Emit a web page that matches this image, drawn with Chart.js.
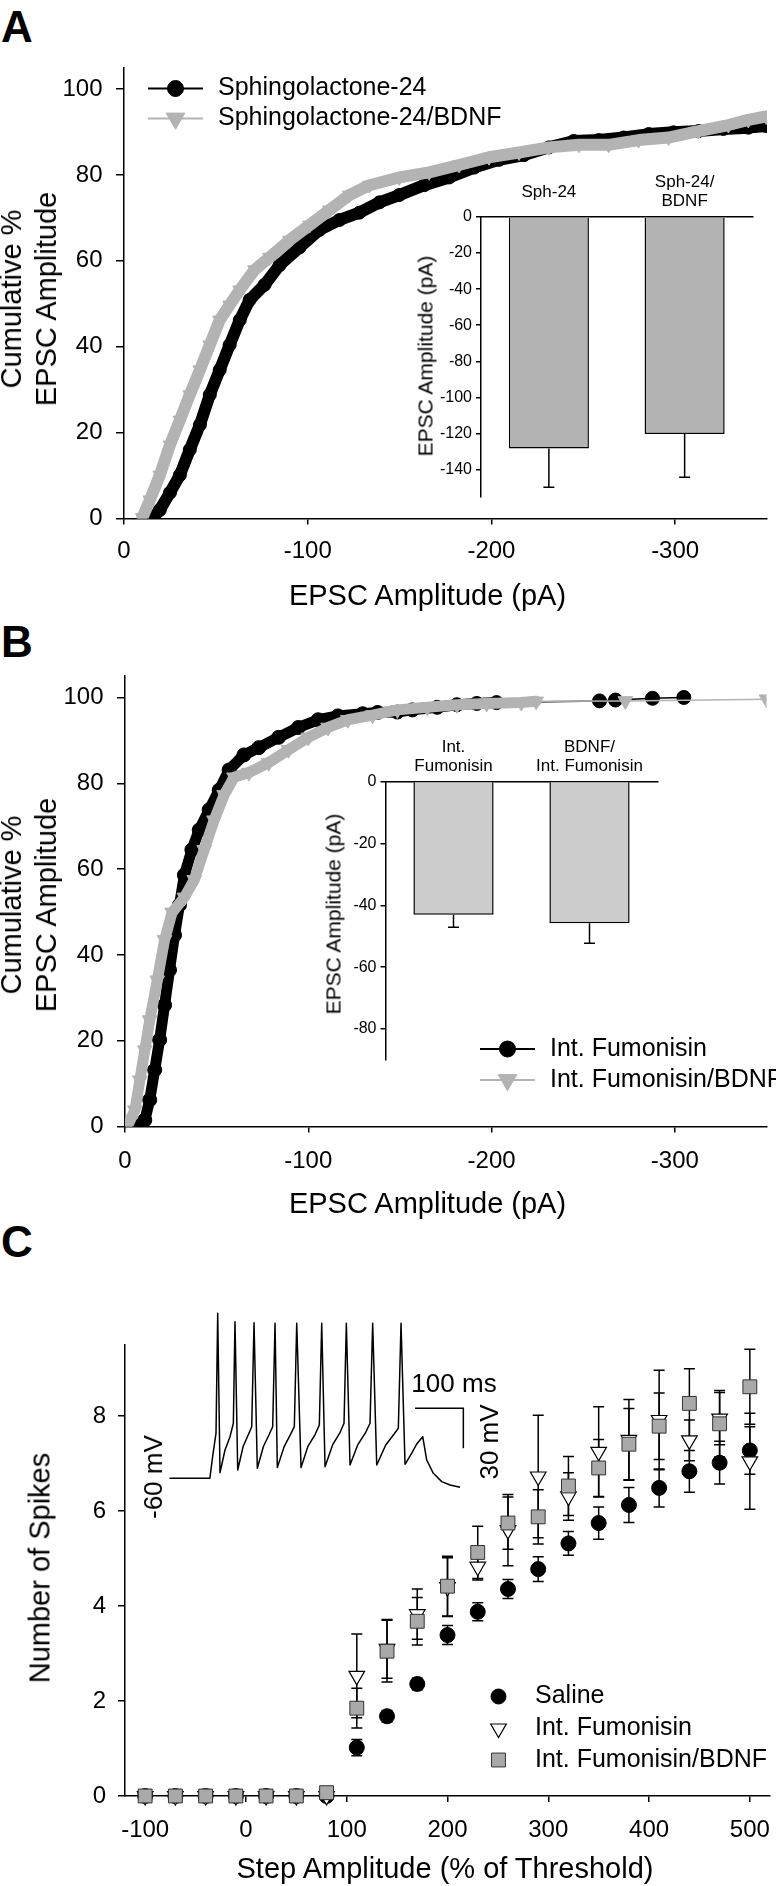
<!DOCTYPE html>
<html>
<head>
<meta charset="utf-8">
<title>EPSC amplitude and spike counts</title>
<script src="https://cdn.jsdelivr.net/npm/chart.js@4.4.1/dist/chart.umd.min.js"></script>
<style>
html, body { margin: 0; }
body { position: relative; width: 776px; height: 1886px; overflow: hidden; background: #fff;
       font-family: "Liberation Sans", Arial, sans-serif; color: #000; }
canvas { position: absolute; }
.txt { position: absolute; white-space: nowrap; line-height: 1; transform: translate(-50%, -50%); }
.rot { transform: translate(-50%, -50%) rotate(-90deg); text-align: center; }
.panel { font-weight: bold; font-size: 44px; }
.title { font-size: 29px; }
.small { font-size: 21px; }
.trace { font-size: 26px; }
</style>
</head>
<body>

<div class="txt panel" style="left:17px;top:26.5px">A</div>
<div class="txt panel" style="left:17px;top:642px">B</div>
<div class="txt panel" style="left:17px;top:1242px">C</div>

<canvas id="cumA" width="796" height="600" style="left:-20px;top:30px"></canvas>
<canvas id="barA" width="340" height="380" style="left:430px;top:150px"></canvas>
<canvas id="cumB" width="796" height="600" style="left:-20px;top:638px"></canvas>
<canvas id="barB" width="340" height="380" style="left:334px;top:710px"></canvas>
<canvas id="spikes" width="816" height="680" style="left:-20px;top:1230px"></canvas>
<canvas id="trace" width="320" height="210" style="left:160px;top:1290px"></canvas>

<!-- axis titles -->
<div class="txt title" style="left:427.5px;top:595px">EPSC Amplitude (pA)</div>
<div class="txt title rot" style="left:28.5px;top:299px;line-height:35px">Cumulative %<br>EPSC Amplitude</div>
<div class="txt small rot" style="left:425px;top:356px">EPSC Amplitude (pA)</div>

<div class="txt title" style="left:427.5px;top:1203px">EPSC Amplitude (pA)</div>
<div class="txt title rot" style="left:28.5px;top:905px;line-height:35px">Cumulative %<br>EPSC Amplitude</div>
<div class="txt small rot" style="left:332.5px;top:914px">EPSC Amplitude (pA)</div>

<div class="txt title" style="left:445px;top:1868px">Step Amplitude (% of Threshold)</div>
<div class="txt title rot" style="left:40px;top:1567.5px">Number of Spikes</div>

<div class="txt trace rot" style="left:153px;top:1477px">-60 mV</div>
<div class="txt trace" style="left:454px;top:1383px">100 ms</div>
<div class="txt trace rot" style="left:488.5px;top:1442px">30 mV</div>

<script>
// ---------- data ----------
// A: cumulative EPSC amplitude, Sphingolactone-24 (pA, %)
var sphX = [-15.5, -19.5, -25, -30.4, -35.8, -41.3, -46.7, -52.1, -57.5, -63, -68.4, -76.5, -84.7, -95.5,
  -106.4, -117.3, -128.1, -139, -149.8, -163.4, -177, -190.6, -204.1, -217.7, -231.3, -244.8, -258.4,
  -272, -285.6, -299.1, -312.7, -326.3, -339.8, -349.5];
var sphY = [0, 2, 6, 10.1, 16, 21.8, 28.8, 34.6, 40.4, 46.2, 50.9, 54.4, 59, 63.1, 67.2, 69.5, 71.2, 73.6,
  75.3, 77.6, 79.4, 81.7, 83.5, 84.6, 86.4, 87.9, 88.1, 88.7, 89.5, 89.9, 90.2, 90.7, 91, 91.4];
// A: Sphingolactone-24/BDNF
var sphBdnfX = [-10, -14.1, -19.5, -25, -30.4, -35.8, -41.3, -46.7, -52.1, -57.5, -63, -71.1, -79.3, -90.1,
  -101, -111.8, -122.7, -133.6, -149.8, -166.1, -182.4, -198.7, -215, -231.3, -247.6, -263.8, -280.1,
  -296.4, -312.7, -329, -339.8, -349.5];
var sphBdnfY = [0.2, 4.3, 10.1, 17.1, 22.9, 28.8, 34.6, 40.4, 46.2, 49.7, 53.2, 57.9, 60.8, 64.8, 68.3, 71.8,
  75.3, 77.6, 79.4, 80.6, 82.3, 84.1, 85.2, 86.4, 87, 87, 88.1, 88.7, 90.2, 91.6, 92.8, 93.6];
// A inset: mean EPSC amplitude (pA) and SEM
var insetACats = ['Sph-24', ['Sph-24/', 'BDNF']];
var insetAMean = [-128.4, -120.3];
var insetASem = [21.5, 24];

// B: cumulative EPSC amplitude, Int. Fumonisin
var fumX = [-6.8, -10.8, -13.5, -16.2, -18.9, -21.6, -24.3, -27, -29.7, -32.4, -36.5, -40.5, -45.9, -51.4,
  -56.8, -64.9, -73, -83.8, -94.6, -105.4, -116.2, -129.7, -137.8, -148.6, -156.8, -170.3, -181.1,
  -191.9, -202.7, -258.9, -267.6, -287.8, -304.9];
var fumY = [0, 1.5, 6.2, 13.2, 20.2, 28.3, 36.5, 44.6, 51.6, 58.6, 64.5, 69.1, 73.8, 78.4, 83.1, 86.6, 88.3,
  90.7, 93, 94.8, 95.7, 96.2, 96.5, 96.6, 97.1, 97.7, 98.3, 98.6, 98.8, 99.2, 99.4, 99.8, 100];
// B: Int. Fumonisin/BDNF
var fumBdnfX = [-2.2, -5.4, -8.1, -10.8, -13.5, -17.6, -21.6, -25.7, -32.4, -37.8, -43.2, -48.6, -54.1,
  -59.5, -67.6, -78.4, -89.2, -100, -110.8, -121.6, -135.1, -148.6, -164.9, -181.1, -197.3, -216.2,
  -224.3, -273, -350];
var fumBdnfY = [0.9, 3.8, 10.8, 17.8, 24.8, 34.1, 43.5, 49.9, 53.4, 57.5, 64.5, 71.4, 77.3, 81.4, 82.5,
  84.8, 87.8, 90.7, 93, 94.8, 95.9, 97.1, 97.7, 98.3, 98.6, 98.8, 99.1, 99.2, 99.6];
// B inset
var insetBCats = [['Int.', 'Fumonisin'], ['BDNF/', 'Int. Fumonisin']];
var insetBMean = [-43.1, -45.8];
var insetBSem = [4, 6.5];

// C: spikes vs step amplitude (% of threshold)
var stepPct = [-100, -70, -40, -10, 20, 50, 80, 110, 140, 170, 200, 230, 260, 290, 320, 350, 380, 410, 440, 470, 500];
var salineMean = [0, 0, 0, 0, 0, 0, 0, 1.02, 1.68, 2.36, 3.39, 3.88, 4.36, 4.78, 5.32, 5.75, 6.13, 6.49, 6.84, 7.02, 7.28];
var salineSem = [0, 0, 0, 0, 0, 0, 0, 0.17, 0.12, 0.12, 0.2, 0.19, 0.2, 0.26, 0.25, 0.34, 0.37, 0.4, 0.44, 0.45, 0.5];
var fumMean = [0, 0, 0, 0, 0, 0, 0, 2.53, 3.1, 3.83, 4.4, 4.83, 5.6, 6.73, 6.31, 7.25, 7.5, 7.92, 7.49, 7.95, 7.05];
var fumSem = [0, 0, 0, 0, 0, 0, 0, 0.88, 0.62, 0.53, 0.62, 0.28, 0.75, 1.29, 0.5, 0.95, 0.85, 1.05, 0.43, 0.55, 1.01];
var bdnfMean = [0, 0, 0, 0, 0, 0, 0.07, 1.85, 3.05, 3.68, 4.42, 5.13, 5.75, 5.88, 6.53, 6.91, 7.41, 7.79, 8.27, 7.84, 8.62];
var bdnfSem = [0, 0, 0, 0, 0, 0, 0.05, 0.42, 0.65, 0.5, 0.63, 0.55, 0.55, 0.57, 0.62, 0.6, 0.75, 0.7, 0.73, 0.7, 0.79];

// C inset: example voltage trace (ms, mV) and the 100 ms / 30 mV scale bar
var traceT = [0, 84, 89.7, 96.7, 100.2, 105, 115.3, 125.7, 132.6, 136, 141.6, 153, 164, 170.6, 175.4, 182.2,
  195, 207, 214, 218.9, 223.6, 238, 251, 258.8, 263.8, 272.7, 287, 302, 310.6, 315.5, 322.4, 338, 353,
  361.7, 366.5, 374.1, 390, 406, 415.5, 421, 429.4, 448, 465, 474.1, 479.7, 488, 501.9, 512.2, 524.6,
  532.9, 546.6, 564, 581.2, 601.9];
var traceV = [-60, -60, -43.8, -26.2, 63.8, -55.8, -38.8, -28.8, -18.7, 57.5, -53.8, -36, -27, -21.3, 56.7,
  -52.5, -36, -27, -21.3, 56.3, -52, -36, -27, -21.3, 56.3, -52, -36, -27, -20, 56.3, -51.3, -35, -26,
  -18.7, 56.3, -50, -35, -26, -18.7, 56.3, -50, -35, -27, -22.5, 56.3, -49.5, -41.2, -34.3, -28.8,
  -46.3, -56.3, -62.5, -65, -66.8];
var scaleBarT = [508.7, 608.7, 608.7];
var scaleBarV = [-7.5, -7.5, -37.5];

// tick labels
var cumXTicks = [0, -100, -200, -300];
var cumYTicks = [0, 20, 40, 60, 80, 100];
var insetATicks = [0, -20, -40, -60, -80, -100, -120, -140];
var insetBTicks = [0, -20, -40, -60, -80];
var stepTicks = [-100, 0, 100, 200, 300, 400, 500];
var spikeTicks = [0, 2, 4, 6, 8];

// ---------- helpers ----------
Chart.defaults.font.family = '"Liberation Sans", Arial, sans-serif';
Chart.defaults.color = '#000';

var GRAY = '#b3b3b3';
var FONT = '"Liberation Sans", Arial, sans-serif';

function pts(xs, ys) {
  return xs.map(function (x, i) { return {x: x, y: ys[i]}; });
}
function fitW(w) { return function (s) { s.width = w; }; }
function fitH(h) { return function (s) { s.height = h; }; }
function fixTicks(list) {
  return function (s) {
    s.ticks = list.slice().sort(function (a, b) { return a - b; }).map(function (v) { return {value: v}; });
  };
}
function axis(tickLen, pad, size, extra) {
  var o = {
    border: {display: true, color: '#000', width: 1.5},
    grid: {display: true, drawOnChartArea: false, drawTicks: tickLen > 0, tickLength: tickLen, color: '#000', lineWidth: 1.5},
    ticks: {padding: pad, font: {size: size}, color: '#000', autoSkip: false, maxRotation: 0}
  };
  for (var k in extra) o[k] = extra[k];
  return o;
}

// error bars drawn through the y scale
var errorBars = {
  id: 'errorBars',
  beforeDatasetsDraw: function (chart) {
    var ctx = chart.ctx, ys = chart.scales.y;
    chart.data.datasets.forEach(function (ds, i) {
      if (!ds.errors) return;
      var meta = chart.getDatasetMeta(i);
      ctx.save();
      ctx.strokeStyle = '#000';
      ctx.lineWidth = 1.5;
      meta.data.forEach(function (el, j) {
        var err = ds.errors[j];
        if (!err) return;
        var d = ds.data[j];
        var v = typeof d === 'number' ? d : d.y;
        var top = ys.getPixelForValue(ds.oneSided ? v : v + err);
        var bot = ys.getPixelForValue(v - err);
        var w = 5.5;
        ctx.beginPath();
        ctx.moveTo(el.x, top); ctx.lineTo(el.x, bot);
        ctx.moveTo(el.x - w, bot); ctx.lineTo(el.x + w, bot);
        if (!ds.oneSided) { ctx.moveTo(el.x - w, top); ctx.lineTo(el.x + w, top); }
        ctx.stroke();
      });
      ctx.restore();
    });
  }
};

// legend placed inside the plot (positions in page pixels)
var innerLegend = {
  id: 'innerLegend',
  afterDraw: function (chart, args, o) {
    if (!o || !o.rows) return;
    var ctx = chart.ctx;
    var ox = chart.canvas.offsetLeft, oy = chart.canvas.offsetTop;
    chart.data.datasets.forEach(function (ds, i) {
      var y = o.rows[i] - oy;
      var x0 = o.x - ox;
      var len = o.lineLength || 0;
      ctx.save();
      if (len) {
        ctx.strokeStyle = ds.borderColor;
        ctx.lineWidth = o.lineWidth;
        ctx.beginPath(); ctx.moveTo(x0, y); ctx.lineTo(x0 + len, y); ctx.stroke();
      }
      ctx.fillStyle = ds.pointBackgroundColor || ds.backgroundColor;
      ctx.strokeStyle = ds.pointBorderColor || ds.borderColor;
      ctx.lineWidth = ds.pointBorderWidth || 1;
      Chart.helpers.drawPoint(ctx, {
        pointStyle: ds.pointStyle, rotation: ds.pointRotation || 0,
        radius: o.radii[i], borderWidth: ctx.lineWidth
      }, x0 + len / 2, y);
      ctx.fillStyle = '#000';
      ctx.font = o.font;
      ctx.textBaseline = 'middle';
      ctx.textAlign = 'left';
      ctx.fillText(ds.label, o.textX - ox, y);
      ctx.restore();
    });
  }
};

// thick band where the events are dense, thin line in the sparse tail
function band(denseTo, w) {
  return {borderWidth: function (c) { return c.p1.parsed.x < denseTo ? 1.5 : w; }};
}

function curve(label, xs, ys, color, style, radius, denseTo, w, order) {
  return {
    label: label, data: pts(xs, ys), order: order,
    borderColor: color, backgroundColor: color,
    pointBackgroundColor: color, pointBorderColor: color, pointBorderWidth: 1,
    pointStyle: style, pointRotation: style === 'triangle' ? 180 : 0, pointRadius: radius,
    borderWidth: w, borderJoinStyle: 'round', borderCapStyle: 'round', tension: 0,
    segment: band(denseTo, w)
  };
}

function cumChart(id, p, datasets) {
  return new Chart(document.getElementById(id), {
    type: 'line',
    data: {datasets: datasets},
    options: {
      responsive: false, animation: false,
      layout: {padding: {left: 0, top: p.padTop, right: p.padRight, bottom: 0}},
      plugins: {
        legend: {display: false}, tooltip: {enabled: false},
        innerLegend: {x: p.legendX, rows: p.legendRows, lineLength: 55, lineWidth: 2,
          textX: p.legendX + 70, radii: [8, 10.8], font: '25px ' + FONT}
      },
      scales: {
        x: axis(6, p.xPad, 24, {type: 'linear', min: -350, max: 0, reverse: true,
          afterBuildTicks: fixTicks(cumXTicks), afterFit: fitH(p.xHeight)}),
        y: axis(8, 13.5, 24, {type: 'linear', min: 0, max: 105,
          afterBuildTicks: fixTicks(cumYTicks), afterFit: fitW(p.yWidth)})
      }
    },
    plugins: [innerLegend]
  });
}

function insetChart(id, p, cats, mean, sem, ticks, fill) {
  return new Chart(document.getElementById(id), {
    type: 'bar',
    data: {
      labels: cats,
      datasets: [{data: mean, errors: sem, oneSided: true, backgroundColor: fill,
        borderColor: '#000', borderWidth: 1.5, barPercentage: 0.59, categoryPercentage: 1}]
    },
    options: {
      responsive: false, animation: false,
      layout: {padding: {left: 0, top: 0, right: p.padRight, bottom: p.padBottom}},
      plugins: {legend: {display: false}, tooltip: {enabled: false}},
      scales: {
        x: axis(0, p.labelPad, 17, {position: 'top', afterFit: fitH(p.xHeight),
          ticks: {padding: p.labelPad, font: {size: 17, lineHeight: 1.08}, color: '#000', maxRotation: 0, autoSkip: false, crossAlign: 'center'}}),
        y: axis(5, 4, 16, {min: p.min, max: 0, afterBuildTicks: fixTicks(ticks), afterFit: fitW(p.yWidth)})
      }
    },
    plugins: [errorBars]
  });
}

// ---------- panel A ----------
cumChart('cumA', {padTop: 37.5, padRight: 8.5, yWidth: 144, xHeight: 111.5, xPad: 12.6,
  legendX: 148, legendRows: [88.5, 118.5]}, [
  curve('Sphingolactone-24', sphX, sphY, '#000', 'circle', 6.5, -400, 12, 2),
  curve('Sphingolactone-24/BDNF', sphBdnfX, sphBdnfY, GRAY, 'triangle', 8, -400, 12, 1)
]);
insetChart('barA', {padRight: 17.5, padBottom: 33.5, yWidth: 51, xHeight: 67, labelPad: 16, min: -155},
  insetACats, insetAMean, insetASem, insetATicks, '#b3b3b3');

// ---------- panel B ----------
cumChart('cumB', {padTop: 38, padRight: 6, yWidth: 145, xHeight: 111.5, xPad: 14.6,
  legendX: 480, legendRows: [1049, 1080]}, [
  curve('Int. Fumonisin', fumX, fumY, '#000', 'circle', 7, -205, 11, 2),
  curve('Int. Fumonisin/BDNF', fumBdnfX, fumBdnfY, GRAY, 'triangle', 8.5, -226, 11, 1)
]);
insetChart('barB', {padRight: 16.5, padBottom: 30, yWidth: 51.5, xHeight: 71.5, labelPad: 15.5, min: -90},
  insetBCats, insetBMean, insetBSem, insetBTicks, '#cccccc');

// ---------- panel C ----------
new Chart(document.getElementById('spikes'), {
  type: 'scatter',
  data: {
    datasets: [
      {label: 'Saline', data: pts(stepPct, salineMean), errors: salineSem, order: 3, clip: false,
        pointStyle: 'circle', pointRadius: 7.5, backgroundColor: '#000', borderColor: '#000',
        pointBackgroundColor: '#000', pointBorderColor: '#000', pointBorderWidth: 1},
      {label: 'Int. Fumonisin', data: pts(stepPct, fumMean), errors: fumSem, order: 2, clip: false,
        pointStyle: 'triangle', pointRotation: 180, pointRadius: 9, backgroundColor: '#fff', borderColor: '#000',
        pointBackgroundColor: '#fff', pointBorderColor: '#000', pointBorderWidth: 1.2},
      {label: 'Int. Fumonisin/BDNF', data: pts(stepPct, bdnfMean), errors: bdnfSem, order: 1, clip: false,
        pointStyle: 'rect', pointRadius: 9.8, backgroundColor: '#a9a9a9', borderColor: '#333',
        pointBackgroundColor: '#a9a9a9', pointBorderColor: '#333', pointBorderWidth: 1}
    ]
  },
  options: {
    responsive: false, animation: false,
    layout: {padding: {left: 0, top: 115, right: 26, bottom: 0}},
    plugins: {
      legend: {display: false}, tooltip: {enabled: false},
      innerLegend: {x: 498.5, rows: [1696.5, 1728.5, 1760], lineLength: 0, lineWidth: 0,
        textX: 535, radii: [7.5, 9, 9.8], font: '25px ' + FONT}
    },
    scales: {
      x: axis(6, 13.6, 24, {type: 'linear', min: -120, max: 520,
        afterBuildTicks: fixTicks(stepTicks), afterFit: fitH(114)}),
      y: axis(7, 12, 24, {type: 'linear', min: 0, max: 9.5,
        afterBuildTicks: fixTicks(spikeTicks), afterFit: fitW(145)})
    }
  },
  plugins: [errorBars, innerLegend]
});

// example trace with scale bar
new Chart(document.getElementById('trace'), {
  type: 'line',
  data: {
    datasets: [
      {data: pts(traceT, traceV), borderColor: '#000', borderWidth: 1.5, pointRadius: 0, tension: 0, borderJoinStyle: 'round'},
      {data: pts(scaleBarT, scaleBarV), borderColor: '#000', borderWidth: 1.5, pointRadius: 0, tension: 0}
    ]
  },
  options: {
    responsive: false, animation: false,
    layout: {padding: {left: 9.3, top: 15, right: 11.2, bottom: 8.4}},
    plugins: {legend: {display: false}, tooltip: {enabled: false}},
    scales: {
      x: {type: 'linear', display: false, min: 0, max: 620},
      y: {type: 'linear', display: false, min: -70, max: 70}
    }
  }
});
</script>
</body>
</html>
